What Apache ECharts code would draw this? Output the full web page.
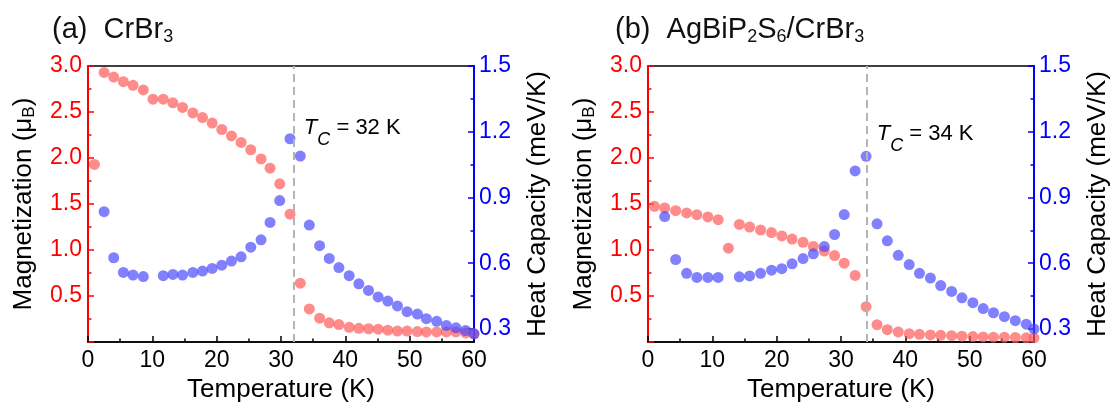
<!DOCTYPE html>
<html>
<head>
<meta charset="utf-8">
<script src="https://cdn.jsdelivr.net/npm/echarts@6/dist/echarts.min.js"></script>
<style>
  html, body { margin: 0; padding: 0; background: #fff; }
  #chart { width: 1113px; height: 408px; }
</style>
</head>
<body>
<div id="chart"></div>
<script>
// (a) CrBr3 — magnetization (μB) and heat capacity (meV/K) vs temperature (K)
const tempA_mag = [1.0, 2.5, 4.0, 5.5, 7.0, 8.6, 10.1, 11.7, 13.2, 14.7, 16.3, 17.8, 19.3, 20.8, 22.3, 23.8, 25.3, 26.9, 28.3, 29.8,
                   31.4, 33.0, 34.4, 36.0, 37.5, 39.0, 40.6, 42.1, 43.6, 45.1, 46.6, 48.1, 49.6, 51.2, 52.6, 54.2, 55.7, 57.2, 58.7, 60.0];
const magA = [1.93, 2.93, 2.88, 2.83, 2.79, 2.74, 2.64, 2.64, 2.60, 2.55, 2.49, 2.44, 2.38, 2.31, 2.24, 2.17, 2.09, 1.99, 1.89, 1.72,
              1.39, 0.64, 0.36, 0.26, 0.21, 0.19, 0.16, 0.15, 0.145, 0.14, 0.13, 0.12, 0.12, 0.115, 0.11, 0.11, 0.11, 0.11, 0.10, 0.09];
const tempA_heat = [2.5, 4.0, 5.5, 7.0, 8.6, 11.7, 13.2, 14.7, 16.3, 17.8, 19.3, 20.8, 22.3, 23.8, 25.3, 26.9, 28.3, 29.8,
                    31.4, 33.0, 34.4, 36.0, 37.5, 39.0, 40.6, 42.1, 43.6, 45.1, 46.6, 48.1, 49.6, 51.2, 52.6, 54.2, 55.7, 57.2, 58.7, 60.0];
const heatA = [0.835, 0.625, 0.558, 0.546, 0.539, 0.543, 0.549, 0.546, 0.558, 0.564, 0.576, 0.591, 0.61, 0.629, 0.673, 0.707, 0.786, 0.886,
               1.168, 1.089, 0.774, 0.68, 0.622, 0.58, 0.543, 0.506, 0.476, 0.446, 0.427, 0.405, 0.379, 0.368, 0.347, 0.335, 0.316, 0.305, 0.293, 0.278];
const tcA = 32;

// (b) AgBiP2S6/CrBr3
const tempB_mag = [1.0, 2.6, 4.3, 6.0, 7.6, 9.3, 10.9, 12.5, 14.2, 15.8, 17.5, 19.2, 20.8, 22.4, 24.1, 25.7, 27.4, 29.0,
                   30.5, 32.2, 33.9, 35.6, 37.2, 38.9, 40.6, 42.2, 43.9, 45.5, 47.2, 48.8, 50.5, 52.1, 53.7, 55.4, 57.1, 58.8, 60.0];
const magB = [1.475, 1.457, 1.428, 1.403, 1.385, 1.36, 1.33, 1.02, 1.278, 1.25, 1.218, 1.19, 1.153, 1.12, 1.085, 1.04, 0.99, 0.94,
              0.857, 0.725, 0.385, 0.189, 0.135, 0.11, 0.092, 0.085, 0.078, 0.074, 0.07, 0.064, 0.06, 0.056, 0.053, 0.053, 0.05, 0.046, 0.046];
const tempB_heat = [2.6, 4.3, 6.0, 7.6, 9.3, 10.9, 14.2, 15.8, 17.5, 19.2, 20.8, 22.4, 24.1, 25.7, 27.4, 29.0,
                    30.5, 32.2, 33.9, 35.6, 37.2, 38.9, 40.6, 42.2, 43.9, 45.5, 47.2, 48.8, 50.5, 52.1, 53.7, 55.4, 57.1, 58.8, 60.0];
const heatB = [0.813, 0.617, 0.554, 0.535, 0.535, 0.535, 0.538, 0.542, 0.554, 0.568, 0.575, 0.597, 0.621, 0.643, 0.676, 0.731,
               0.822, 1.021, 1.088, 0.78, 0.702, 0.636, 0.594, 0.554, 0.532, 0.498, 0.471, 0.442, 0.42, 0.393, 0.374, 0.356, 0.338, 0.322, 0.30];
const tcB = 34;

// axis ticks
const heatTicks = [0.3, 0.6, 0.9, 1.2, 1.5];
const heatMinorTicks = [0.45, 0.75, 1.05, 1.35];

// panel titles: [text, isSubscript] segments
const titleA = [['(a)  CrBr', false], ['3', true]];
const titleB = [['(b)  AgBiP', false], ['2', true], ['S', false], ['6', true], ['/CrBr', false], ['3', true]];

const FONT = "'Liberation Sans', Arial, sans-serif";
const RED = '#ff0000', BLUE = '#0000ff';
const DOT_RED = 'rgba(255, 90, 90, 0.88)', DOT_BLUE = 'rgba(72, 72, 255, 0.86)';

const zip = (xs, ys) => xs.map((x, i) => [x, ys[i]]);
const richText = segs => segs.map(([t, sub]) => '{' + (sub ? 's' : 'n') + '|' + t + '}').join('');

const chart = echarts.init(document.getElementById('chart'), null, { renderer: 'canvas' });

const gridLefts = [88, 648];
const grids = gridLefts.map(l => ({
  left: l, top: 66, width: 386, height: 280,
  show: true, borderColor: '#000', borderWidth: 1.5, backgroundColor: 'transparent'
}));

const xAxes = [0, 1].map(g => ({
  gridIndex: g, type: 'value', min: 0, max: 60, interval: 10,
  axisLine: { lineStyle: { color: '#000', width: 1.5 } },
  axisTick: { inside: true, length: 6, lineStyle: { color: '#000', width: 1.5 } },
  minorTick: { show: true, splitNumber: 2, length: 3.5, lineStyle: { color: '#000', width: 1.5 } },
  splitLine: { show: false }, minorSplitLine: { show: false },
  axisLabel: { fontSize: 23, color: '#000', margin: 7, fontFamily: FONT },
  name: 'Temperature (K)', nameLocation: 'middle', nameGap: 30,
  nameTextStyle: { fontSize: 26, color: '#000', fontFamily: FONT }
}));

const yAxes = [];
[0, 1].forEach(g => {
  yAxes.push({
    gridIndex: g, type: 'value', position: 'left', min: 0, max: 3, interval: 0.5,
    axisLine: { show: true, lineStyle: { color: RED, width: 2 } },
    axisTick: { show: true, inside: true, length: 6, lineStyle: { color: RED, width: 1.5 } },
    minorTick: { show: true, splitNumber: 2, length: 3.5, lineStyle: { color: RED, width: 1.5 } },
    splitLine: { show: false }, minorSplitLine: { show: false },
    axisLabel: { fontSize: 23, color: RED, margin: 6, fontFamily: FONT, showMinLabel: false,
                 formatter: v => v.toFixed(1) },
    name: '{n|Magnetization (μ}{s|B}{n|)}', nameLocation: 'middle', nameGap: 50, nameRotate: 90,
    nameTextStyle: { fontFamily: FONT, color: '#000',
      rich: { n: { fontSize: 26, fontFamily: FONT, color: '#000' },
              s: { fontSize: 17, fontFamily: FONT, color: '#000', padding: [11, 0, 0, 0] } } }
  });
  yAxes.push({
    gridIndex: g, type: 'value', position: 'right', min: 0.24, max: 1.5,
    axisLine: { show: true, lineStyle: { color: BLUE, width: 2 } },
    axisTick: { show: true, inside: true, length: 6, customValues: heatTicks, lineStyle: { color: BLUE, width: 1.5 } },
    splitLine: { show: false },
    axisLabel: { fontSize: 23, color: BLUE, margin: 5, fontFamily: FONT, customValues: heatTicks,
                 formatter: v => v.toFixed(1) },
    name: 'Heat Capacity (meV/K)', nameLocation: 'middle', nameGap: 51, nameRotate: 90,
    nameTextStyle: { fontSize: 26, color: '#000', fontFamily: FONT }
  });
  yAxes.push({
    gridIndex: g, type: 'value', position: 'right', min: 0.24, max: 1.5,
    axisLine: { show: false },
    axisTick: { show: true, inside: true, length: 3.5, customValues: heatMinorTicks, lineStyle: { color: BLUE, width: 1.5 } },
    axisLabel: { show: false }, splitLine: { show: false }
  });
});

function magSeries(g, temps, vals, tc) {
  return {
    type: 'scatter', xAxisIndex: g, yAxisIndex: g * 3, data: zip(temps, vals),
    symbolSize: 11, itemStyle: { color: DOT_RED }, z: 3,
    markLine: {
      silent: true, symbol: 'none', animation: false,
      label: { show: false },
      lineStyle: { color: '#b4b4b4', type: [8, 5], width: 2 },
      data: [{ xAxis: tc }]
    }
  };
}
function heatSeries(g, temps, vals) {
  return {
    type: 'scatter', xAxisIndex: g, yAxisIndex: g * 3 + 1, data: zip(temps, vals),
    symbolSize: 11, itemStyle: { color: DOT_BLUE }, z: 4
  };
}

chart.setOption({
  animation: false,
  textStyle: { fontFamily: FONT },
  grid: grids,
  xAxis: xAxes,
  yAxis: yAxes,
  series: [
    magSeries(0, tempA_mag, magA, tcA),
    heatSeries(0, tempA_heat, heatA),
    magSeries(1, tempB_mag, magB, tcB),
    heatSeries(1, tempB_heat, heatB)
  ]
});

// panel titles and transition-temperature labels
const titleRich = {
  n: { fontSize: 29, fontFamily: FONT, fill: '#111' },
  s: { fontSize: 18, fontFamily: FONT, fill: '#111', padding: [15, 0, 0, 0] }
};
const tcRich = {
  t: { fontSize: 22, fontFamily: FONT, fontStyle: 'italic', fill: '#000' },
  c: { fontSize: 18, fontFamily: FONT, fontStyle: 'italic', fill: '#000', padding: [24, 0, 0, 0] },
  n: { fontSize: 22, fontFamily: FONT, fill: '#000' }
};
const titles = [titleA, titleB];
const titleX = [52, 615];
const tcList = [tcA, tcB];
const tcLabelY = [128, 134];

const graphics = [];
[0, 1].forEach(g => {
  graphics.push({
    type: 'text', x: titleX[g], y: 30,
    style: { text: richText(titles[g]), rich: titleRich, verticalAlign: 'middle', align: 'left' }
  });
  const px = chart.convertToPixel({ xAxisIndex: g }, tcList[g]);
  graphics.push({
    type: 'text', x: px + 10, y: tcLabelY[g],
    style: { text: '{t|T}{c|C}{n| = ' + tcList[g] + ' K}', rich: tcRich, verticalAlign: 'middle', align: 'left' }
  });
});
chart.setOption({ graphic: graphics });
</script>
</body>
</html>
